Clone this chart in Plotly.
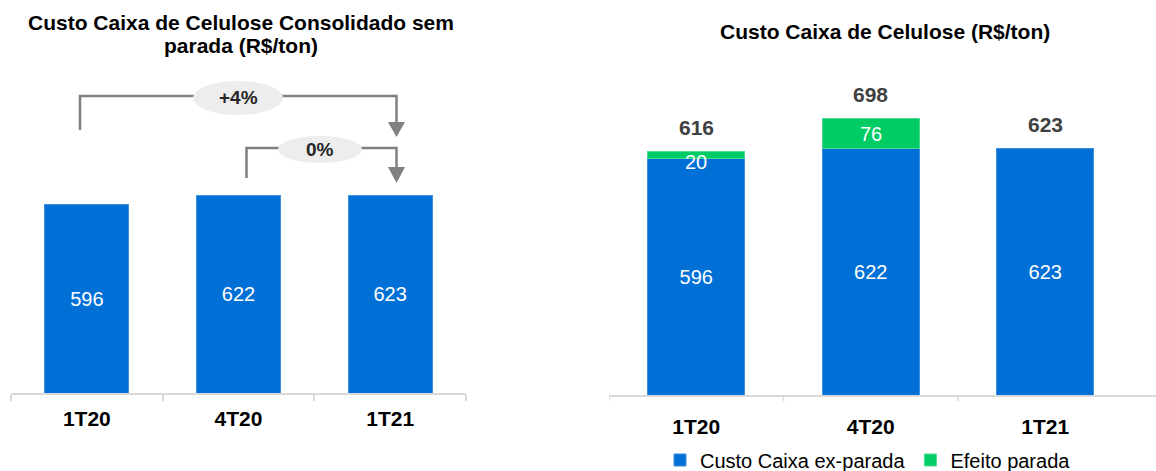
import plotly.graph_objects as go

# ---- data -------------------------------------------------------------
quarters = ["1T20", "4T20", "1T21"]
custo_sem_parada = [596, 622, 623]          # left chart
custo_ex_parada = [596, 622, 623]           # right chart, blue segment
efeito_parada = [20, 76, 0]                 # right chart, green segment
variacoes = ["+4%", "0%"]                   # 1T20->1T21, 4T20->1T21

# ---- styling -----------------------------------------------------------
W, H = 1156, 471
FONT = "Arial, Liberation Sans, sans-serif"
BLUE = "#0070D7"
GREEN = "#00CC66"
AXIS_GRAY = "#D9D9D9"
ARROW_GRAY = "#808080"
BUBBLE = "#EDEDED"


def px_x(p):
    return p / W


def px_y(p):
    return (H - p) / H


# left panel geometry (pixels)
L_LEFT, L_RIGHT, L_BASE, L_TOP = 11, 466, 393, 60
L_SCALE = 0.317                      # px per R$/ton
# right panel geometry (pixels)
R_LEFT, R_BASE, R_TOP = 609, 395, 60
R_SCALE = 0.396
R_CAT = 174.5

fig = go.Figure()

# left chart: cost without shutdown
fig.add_trace(go.Bar(
    x=quarters, y=custo_sem_parada, xaxis="x", yaxis="y",
    marker=dict(color=BLUE, line=dict(color="#3D8FE0", width=1)),
    text=[str(v) for v in custo_sem_parada], textposition="inside",
    insidetextanchor="middle",
    textfont=dict(family=FONT, size=20, color="white"),
    showlegend=False, hoverinfo="x+y",
))

# right chart: stacked cost + shutdown effect
fig.add_trace(go.Bar(
    x=quarters, y=custo_ex_parada, xaxis="x2", yaxis="y2",
    name="Custo Caixa ex-parada",
    marker=dict(color=BLUE, line=dict(color="#3D8FE0", width=1)),
    text=[str(v) for v in custo_ex_parada], textposition="inside",
    insidetextanchor="middle",
    textfont=dict(family=FONT, size=20, color="white"),
))
fig.add_trace(go.Bar(
    x=quarters, y=efeito_parada, xaxis="x2", yaxis="y2",
    name="Efeito parada",
    marker=dict(color=GREEN,
                line=dict(color="#4DDB94",
                          width=[1 if v > 0 else 0 for v in efeito_parada])),
    textposition="none",
))

annotations = []
shapes = []

# segment labels for the shutdown effect
label_shift = {0: -7}
for i, (q, base, v) in enumerate(zip(quarters, custo_ex_parada, efeito_parada)):
    if v > 0:
        annotations.append(dict(
            x=q, y=base + v / 2, xref="x2", yref="y2", text=str(v),
            showarrow=False, yshift=label_shift.get(i, 0),
            font=dict(family=FONT, size=20, color="white"),
        ))

# totals above the stacked bars
for q, a, b in zip(quarters, custo_ex_parada, efeito_parada):
    annotations.append(dict(
        x=q, y=a + b, xref="x2", yref="y2", text=f"<b>{a + b}</b>",
        showarrow=False, yshift=24,
        font=dict(family=FONT, size=21, color="#404040"),
    ))

# titles
for line, ypx in [("Custo Caixa de Celulose Consolidado sem", 23),
                  ("parada (R$/ton)", 46)]:
    annotations.append(dict(
        x=px_x(241), y=px_y(ypx), xref="paper", yref="paper",
        xanchor="center", yanchor="middle",
        text=f"<b>{line}</b>", showarrow=False,
        font=dict(family=FONT, size=21, color="black"),
    ))
annotations.append(dict(
    x=px_x(885), y=px_y(32), xref="paper", yref="paper",
    xanchor="center", yanchor="middle",
    text="<b>Custo Caixa de Celulose (R$/ton)</b>",
    showarrow=False, font=dict(family=FONT, size=21, color="black"),
))


# variation brackets on the left chart (x in category units, y in R$/ton)
def cx(p):
    return (p - (L_LEFT + (L_RIGHT - L_LEFT) / 6)) / ((L_RIGHT - L_LEFT) / 3)


def cy(p):
    return (L_BASE - p) / L_SCALE


brackets = [
    # x_start, y_bottom, y_top, x_end, head_top, head_tip, bubble(x0,x1,y0,y1), label
    (80, 130, 96, 396.5, 122, 137, (193, 283, 81, 115), variacoes[0]),
    (246.5, 178, 148, 396.5, 167, 183, (278, 362, 136, 163), variacoes[1]),
]
for xs, yb, yt, xe, ht, tip, (bx0, bx1, by0, by1), lab in brackets:
    shapes.append(dict(
        type="path", xref="x", yref="y",
        path=(f"M{cx(xs)},{cy(yb)} L{cx(xs)},{cy(yt)} "
              f"L{cx(xe)},{cy(yt)} L{cx(xe)},{cy(ht)}"),
        line=dict(color=ARROW_GRAY, width=2.5),
    ))
    shapes.append(dict(
        type="path", xref="x", yref="y",
        path=(f"M{cx(xe - 8.5)},{cy(ht)} L{cx(xe + 8.5)},{cy(ht)} "
              f"L{cx(xe)},{cy(tip)} Z"),
        fillcolor=ARROW_GRAY, line=dict(width=0),
    ))
    shapes.append(dict(
        type="circle", xref="x", yref="y",
        x0=cx(bx0), x1=cx(bx1), y0=cy(by1), y1=cy(by0),
        fillcolor=BUBBLE, line=dict(width=0),
    ))
    annotations.append(dict(
        x=cx((bx0 + bx1) / 2), y=cy((by0 + by1) / 2), xref="x", yref="y",
        text=f"<b>{lab}</b>", showarrow=False,
        font=dict(family=FONT, size=19, color="#262626"),
    ))

# category boundary ticks on the right axis
for b in [-0.5, 0.5, 1.5]:
    shapes.append(dict(
        type="line", xref="x2", yref="y2 domain",
        x0=b, x1=b, y0=0, y1=-6 / (R_BASE - R_TOP),
        line=dict(color=AXIS_GRAY, width=1.5),
    ))

tickfont = dict(family=FONT, size=21, color="black", weight="bold")

fig.update_layout(
    width=W, height=H,
    margin=dict(l=0, r=0, t=0, b=0, autoexpand=False),
    paper_bgcolor="white", plot_bgcolor="white",
    barmode="stack", bargap=0.445,
    font=dict(family=FONT),
    xaxis=dict(
        domain=[px_x(L_LEFT), px_x(L_RIGHT)], anchor="y",
        type="category", range=[-0.5, 2.5],
        showline=True, linecolor=AXIS_GRAY, linewidth=1.5,
        ticks="outside", ticklen=6, tickwidth=1.5, tickcolor=AXIS_GRAY,
        tickson="boundaries", showgrid=False, tickfont=tickfont,
        ticklabelstandoff=6,
    ),
    yaxis=dict(
        domain=[px_y(L_BASE), px_y(L_TOP)], anchor="x",
        range=[0, (L_BASE - L_TOP) / L_SCALE], visible=False,
    ),
    xaxis2=dict(
        domain=[px_x(R_LEFT), 1.0], anchor="y2",
        type="category", range=[-0.5, 2.5 + (W - R_LEFT - 3 * R_CAT) / R_CAT],
        showline=True, linecolor=AXIS_GRAY, linewidth=1.5,
        ticks="outside", ticklen=6, tickwidth=1.5,
        tickcolor="rgba(0,0,0,0)",
        showgrid=False, tickfont=tickfont, ticklabelstandoff=6,
    ),
    yaxis2=dict(
        domain=[px_y(R_BASE), px_y(R_TOP)], anchor="x2",
        range=[0, (R_BASE - R_TOP) / R_SCALE], visible=False,
    ),
    legend=dict(
        orientation="h", x=px_x(660), y=px_y(460), xanchor="left",
        yanchor="middle", font=dict(family=FONT, size=20, color="black"),
        itemwidth=30, traceorder="normal", bgcolor="rgba(0,0,0,0)",
    ),
    annotations=annotations,
    shapes=shapes,
)

fig.write_html("out.html")
